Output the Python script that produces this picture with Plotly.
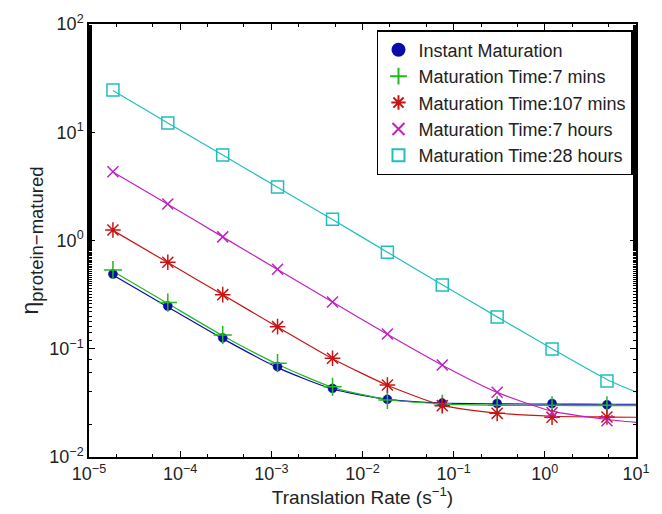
import plotly.graph_objects as go

# Translation rate (s^-1) at marker positions
rate = [1.83e-5, 7.32e-5, 2.93e-4, 1.17e-3, 4.69e-3, 1.875e-2, 7.5e-2, 0.3, 1.2, 4.8]
# Line samples: marker rates plus right edge
rate_line = rate + [10.0]

series_names = [
    "Instant Maturation",
    "Maturation Time:7 mins",
    "Maturation Time:107 mins",
    "Maturation Time:7 hours",
    "Maturation Time:28 hours",
]

instant = [0.49, 0.248, 0.126, 0.0683, 0.043, 0.0341, 0.0315, 0.0312, 0.0312, 0.0304]
mins7 = [0.534, 0.267, 0.134, 0.0735, 0.0445, 0.0337, 0.0310, 0.0300, 0.0300, 0.0300]
mins107 = [1.25, 0.63, 0.316, 0.16, 0.0817, 0.0463, 0.0298, 0.0253, 0.0233, 0.0234]
hours7 = [4.32, 2.17, 1.08, 0.542, 0.27, 0.137, 0.0708, 0.0396, 0.0257, 0.0216]
hours28 = [24.6, 12.2, 6.17, 3.12, 1.57, 0.78, 0.388, 0.196, 0.0995, 0.0504]

instant_line = [0.48, 0.243, 0.124, 0.067, 0.0425, 0.0340, 0.0314, 0.0310, 0.0308, 0.0307, 0.0307]
mins7_line = [0.52, 0.262, 0.132, 0.072, 0.0440, 0.0340, 0.0310, 0.0301, 0.0299, 0.0298, 0.0298]
mins107_line = [1.24, 0.625, 0.315, 0.159, 0.081, 0.0460, 0.0300, 0.0255, 0.0238, 0.0234, 0.0233]
hours7_line = [4.3, 2.16, 1.08, 0.54, 0.27, 0.136, 0.0705, 0.0395, 0.0265, 0.0222, 0.0209]
hours28_line = [24.3, 12.2, 6.15, 3.1, 1.56, 0.78, 0.39, 0.197, 0.1, 0.052, 0.0398]

# Tick values and labels
x_tickvals = [1e-5, 1e-4, 1e-3, 1e-2, 1e-1, 1e0, 1e1]
x_ticktext = ["10<sup>−5</sup>", "10<sup>−4</sup>", "10<sup>−3</sup>", "10<sup>−2</sup>",
              "10<sup>−1</sup>", "10<sup>0</sup>", "10<sup>1</sup>"]
y_tickvals = [1e-2, 1e-1, 1e0, 1e1, 1e2]
y_ticktext = ["10<sup>−2</sup>", "10<sup>−1</sup>", "10<sup>0</sup>", "10<sup>1</sup>", "10<sup>2</sup>"]

colors = ["#0b0ba8", "#22b822", "#c81414", "#c020c0", "#1fbfbf"]
symbols = ["circle", "cross-thin", "asterisk-open", "x-thin", "square-open"]
sizes = [9, 13, 13, 11, 12]
marker_data = [instant, mins7, mins107, hours7, hours28]
line_data = [instant_line, mins7_line, mins107_line, hours7_line, hours28_line]

fig = go.Figure()
for i in range(5):
    fig.add_trace(go.Scatter(
        x=rate_line, y=line_data[i], mode="lines",
        line=dict(color=colors[i], width=1.2, shape="spline", smoothing=0.6),
        showlegend=False, hoverinfo="skip",
    ))
for i in range(5):
    mk = dict(symbol=symbols[i], size=sizes[i], color=colors[i],
              line=dict(color=colors[i], width=1.5))
    if symbols[i] == "circle":
        mk["line"] = dict(color=colors[i], width=0.5)
    fig.add_trace(go.Scatter(
        x=rate, y=marker_data[i], mode="markers", name=series_names[i],
        marker=mk,
    ))

FONT = "Liberation Sans, Arial, sans-serif"
axis_common = dict(
    type="log", showline=True, linecolor="black", linewidth=1.5, mirror="ticks",
    ticks="inside", ticklen=6, tickcolor="black", showgrid=False, zeroline=False,
    minor=dict(ticks="inside", ticklen=3, tickcolor="black", showgrid=False),
    tickfont=dict(family=FONT, size=18, color="#222"),
)

fig.update_layout(
    width=662, height=514,
    margin=dict(l=89, r=24, t=24, b=57),
    paper_bgcolor="white", plot_bgcolor="white",
    font=dict(family=FONT, color="#222"),
    xaxis=dict(axis_common, range=[-5, 1], tickmode="array",
               tickvals=x_tickvals, ticktext=x_ticktext,
               title=dict(text="Translation Rate (s<sup>−1</sup>)", font=dict(size=19), standoff=4)),
    yaxis=dict(axis_common, range=[-2, 2], tickmode="array",
               tickvals=y_tickvals, ticktext=y_ticktext,
               title=dict(text="η<sub><span style='font-size:18.5px'>protein−matured</span></sub>",
                          font=dict(size=23), standoff=4)),
    legend=dict(
        x=0.9945, y=0.986, xanchor="right", yanchor="top",
        bgcolor="white", bordercolor="black", borderwidth=1.5,
        font=dict(size=18, color="#222"), tracegroupgap=0, itemsizing="constant",
    ),
)

fig.write_html("out.html")
